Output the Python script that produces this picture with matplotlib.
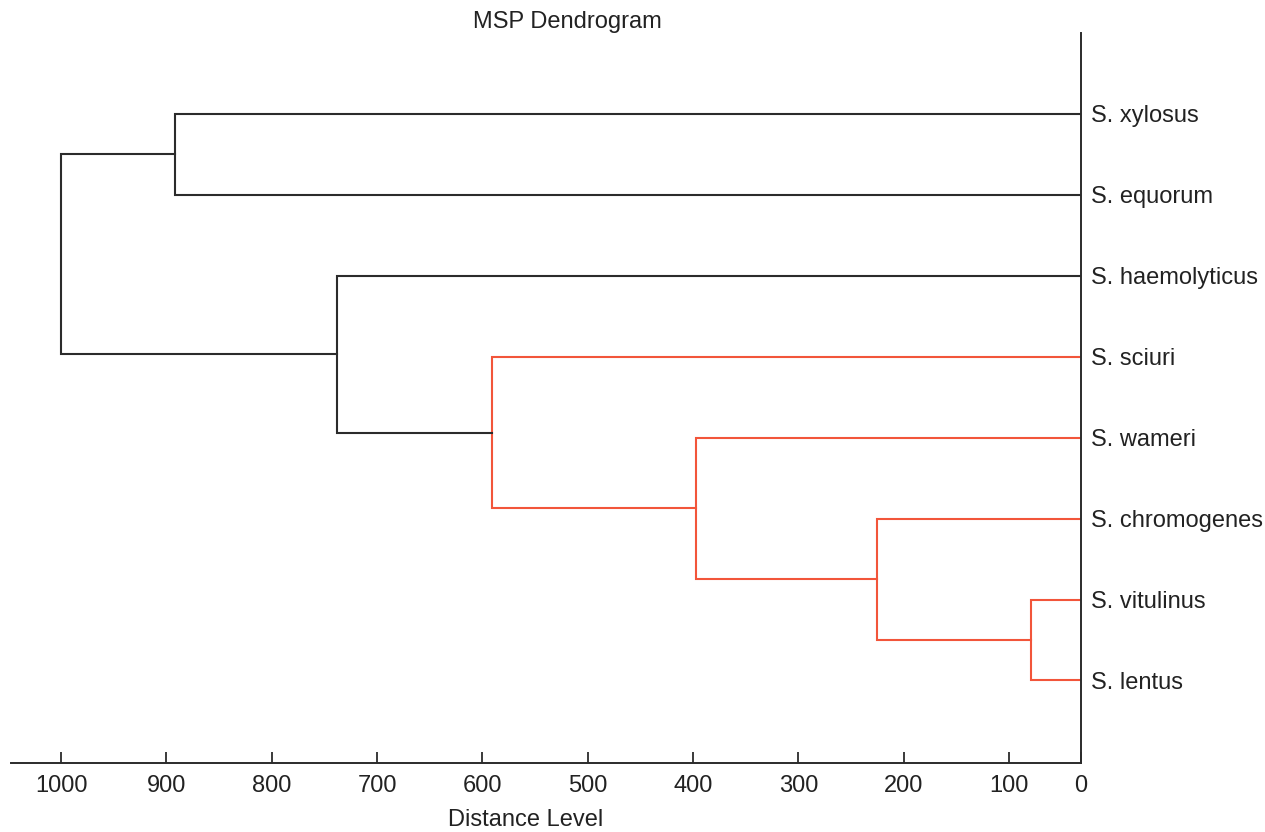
import matplotlib
matplotlib.use('Agg')
import matplotlib.pyplot as plt

plt.rcParams['font.family'] = ['Liberation Sans', 'DejaVu Sans']

# leaves, top to bottom
leaves = ['S. xylosus', 'S. equorum', 'S. haemolyticus', 'S. sciuri',
          'S. wameri', 'S. chromogenes', 'S. vitulinus', 'S. lentus']
# merges: (child a, child b, distance level); new cluster ids start at 8
merge_a = [6, 5, 4, 3, 2, 0, 13]
merge_b = [7, 8, 9, 10, 11, 1, 12]
merge_dist = [79, 225, 397, 591, 738, 892, 1000]
red_clusters = [8, 9, 10, 11]   # clusters drawn in red

tick_vals = [1000, 900, 800, 700, 600, 500, 400, 300, 200, 100]
x_left, x_right = 1047.5, 31.6   # the right axis line sits a bit above 0

black = '#2b2b2b'
red = '#f2553a'

fig = plt.figure(figsize=(12.65, 8.32), dpi=100)
ax = fig.add_axes([11/1265, 1-763/832, 1070/1265, 730/832])

ypos = {i: i + 1 for i in range(len(leaves))}
xpos = {i: 0 for i in range(len(leaves))}
for k in range(len(merge_a)):
    cid = len(leaves) + k
    a, b, d = merge_a[k], merge_b[k], merge_dist[k]
    col = red if cid in red_clusters else black
    ax.plot([xpos[a], d, d, xpos[b]], [ypos[a], ypos[a], ypos[b], ypos[b]],
            color=col, lw=1.5, solid_joinstyle='miter')
    ypos[cid] = (ypos[a] + ypos[b]) / 2
    xpos[cid] = d

ax.set_xlim(x_left, x_right)
ax.set_ylim(9.02, 0.0)

for s in ['top', 'left']:
    ax.spines[s].set_visible(False)
for s in ['bottom', 'right']:
    ax.spines[s].set_linewidth(1.4)
    ax.spines[s].set_color(black)

ax.set_xticks(tick_vals + [x_right])
ax.set_xticklabels([str(v) for v in tick_vals] + ['0'])
ax.tick_params(axis='x', direction='in', length=8, width=1.3, color=black,
               labelsize=17, labelcolor='#222222', pad=9)

ax.yaxis.tick_right()
ax.set_yticks(range(1, len(leaves) + 1))
ax.set_yticklabels(leaves)
ax.tick_params(axis='y', length=0, pad=7, labelsize=17, labelcolor='#222222')

ax.set_xlabel('Distance Level', fontsize=17, color='#222222')
ax.xaxis.set_label_coords((526-11)/1070, (763-820)/730)
ax.xaxis.label.set_va('center')

fig.text(567/1265, 1-22/832, 'MSP Dendrogram', fontsize=17, color='#222222',
         ha='center', va='center')

fig.savefig('out.png', dpi=100)
